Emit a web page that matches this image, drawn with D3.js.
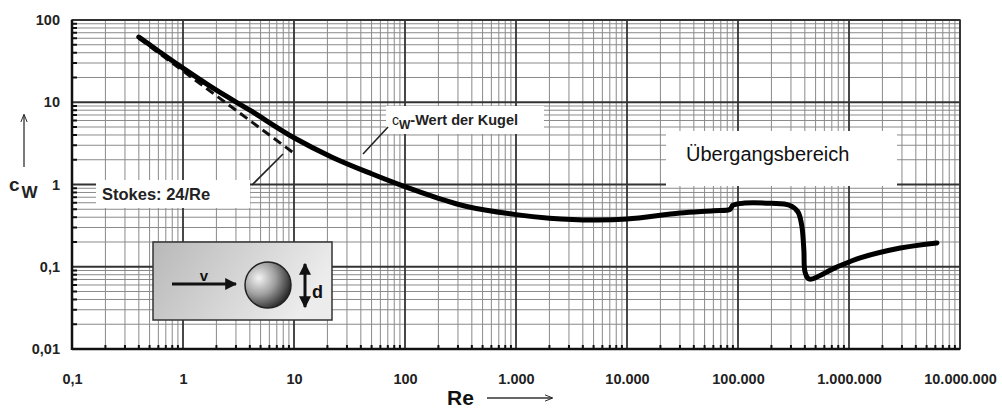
<!DOCTYPE html>
<html><head><meta charset="utf-8">
<script src="https://cdn.jsdelivr.net/npm/d3@7"></script>
<style>body{margin:0;background:#fff}svg{display:block}text{font-family:"Liberation Sans",Arial,sans-serif}</style>
</head><body><svg id="c" width="1002" height="408"></svg>
<script>
const xTicks = [0.1, 1, 10, 100, 1000, 1e4, 1e5, 1e6, 1e7];
const xTickLabels = ["0,1", "1", "10", "100", "1.000", "10.000", "100.000", "1.000.000", "10.000.000"];
const yTicks = [0.01, 0.1, 1, 10, 100];
const yTickLabels = ["0,01", "0,1", "1", "10", "100"];
const reValues = [0.4, 0.6, 1, 2, 4, 10, 22, 50, 100, 200, 360, 1000, 2000, 5000, 10000, 30000, 60000, 85000, 90000, 115000, 200000, 290000, 345000, 375000, 392000, 402000, 436000, 750000, 1260000, 2900000, 6200000];
const cwValues = [62, 42, 26, 14, 8.0, 3.7, 2.15, 1.35, 0.94, 0.68, 0.54, 0.43, 0.39, 0.37, 0.38, 0.45, 0.48, 0.50, 0.56, 0.595, 0.59, 0.56, 0.47, 0.32, 0.16, 0.086, 0.071, 0.097, 0.128, 0.169, 0.195];
const stokesRe = [0.4, 10];
const stokesCw = [60, 2.4];

const svg = d3.select("#c");
const L = 72, R = 960, T = 20, B = 349;
const x = d3.scaleLog().domain([0.1, 1e7]).range([L, R]);
const y = d3.scaleLog().domain([0.01, 100]).range([B, T]);

// minor grid
const minorX = [], minorY = [];
for (let e = -1; e < 7; e++) for (let m = 2; m <= 9; m++) minorX.push(m * Math.pow(10, e));
for (let e = -2; e < 2; e++) for (let m = 2; m <= 9; m++) minorY.push(m * Math.pow(10, e));
const g = svg.append("g");
g.selectAll(".mx").data(minorX).join("line").attr("x1", d => x(d)).attr("x2", d => x(d)).attr("y1", T).attr("y2", B).attr("stroke", "#8a8a8a").attr("stroke-width", 1);
g.selectAll(".my").data(minorY).join("line").attr("y1", d => y(d)).attr("y2", d => y(d)).attr("x1", L).attr("x2", R).attr("stroke", "#8a8a8a").attr("stroke-width", 1);
g.selectAll(".Mx").data(xTicks).join("line").attr("x1", d => x(d)).attr("x2", d => x(d)).attr("y1", T).attr("y2", B).attr("stroke", "#333").attr("stroke-width", 1.8);
g.selectAll(".My").data(yTicks).join("line").attr("y1", d => y(d)).attr("y2", d => y(d)).attr("x1", L).attr("x2", R).attr("stroke", "#333").attr("stroke-width", 1.8);
// minor tick marks on axes
g.selectAll(".tx").data(minorX).join("line").attr("x1", d => x(d)).attr("x2", d => x(d)).attr("y1", B - 4).attr("y2", B).attr("stroke", "#111").attr("stroke-width", 2);
g.selectAll(".ty").data(minorY).join("line").attr("y1", d => y(d)).attr("y2", d => y(d)).attr("x1", L).attr("x2", L + 5).attr("stroke", "#111").attr("stroke-width", 2);
// frame
svg.append("rect").attr("x", L).attr("y", T).attr("width", R - L).attr("height", B - T).attr("fill", "none").attr("stroke", "#333").attr("stroke-width", 1.5);
svg.append("line").attr("x1", L).attr("x2", L).attr("y1", T).attr("y2", B + 1).attr("stroke", "#111").attr("stroke-width", 2.5);
svg.append("line").attr("x1", L).attr("x2", R).attr("y1", B).attr("y2", B).attr("stroke", "#111").attr("stroke-width", 2.5);

// axes labels via d3 axes
const xAxis = d3.axisBottom(x).tickValues(xTicks).tickFormat((d, i) => xTickLabels[i]).tickSize(0).tickPadding(25);
const xa = svg.append("g").attr("transform", `translate(0,${B})`).call(xAxis);
xa.select(".domain").remove();
xa.selectAll("text").attr("font-size", 14.5).attr("font-weight", "bold").attr("fill", "#222").style("font-family", "Liberation Sans, Arial");
const yAxis = d3.axisLeft(y).tickValues(yTicks).tickFormat((d, i) => yTickLabels[i]).tickSize(0).tickPadding(12);
const ya = svg.append("g").attr("transform", `translate(${L},0)`).call(yAxis);
ya.select(".domain").remove();
ya.selectAll("text").attr("font-size", 14.5).attr("font-weight", "bold").attr("fill", "#222").style("font-family", "Liberation Sans, Arial");

// defs
const defs = svg.append("defs");
const lg = defs.append("linearGradient").attr("id", "boxg").attr("x1", "0").attr("y1", "0").attr("x2", "1").attr("y2", "0.3");
lg.append("stop").attr("offset", "0").attr("stop-color", "#b8b8b8");
lg.append("stop").attr("offset", "1").attr("stop-color", "#ececec");
const rg = defs.append("radialGradient").attr("id", "sph").attr("cx", "0.3").attr("cy", "0.35").attr("r", "0.8");
rg.append("stop").attr("offset", "0").attr("stop-color", "#f4f4f4");
rg.append("stop").attr("offset", "0.45").attr("stop-color", "#a0a0a0");
rg.append("stop").attr("offset", "1").attr("stop-color", "#111");
defs.append("marker").attr("id", "ah").attr("viewBox", "0 0 10 10").attr("refX", 9).attr("refY", 5).attr("markerWidth", 4).attr("markerHeight", 4).attr("orient", "auto-start-reverse")
  .append("path").attr("d", "M0,0L10,5L0,10z").attr("fill", "#111");
defs.append("marker").attr("id", "oa").attr("viewBox", "0 0 10 10").attr("refX", 9).attr("refY", 5).attr("markerWidth", 8).attr("markerHeight", 8).attr("markerUnits", "userSpaceOnUse").attr("orient", "auto")
  .append("path").attr("d", "M0,1L10,5L0,9").attr("fill", "none").attr("stroke", "#222").attr("stroke-width", 1.2);

// Stokes dashed
const line = d3.line().x(d => x(d[0])).y(d => y(d[1]));
svg.append("path").datum(stokesRe.map((r, i) => [r, stokesCw[i]])).attr("d", line).attr("fill", "none").attr("stroke", "#111").attr("stroke-width", 3).attr("stroke-dasharray", "9,5");
// main curve
const curveLine = d3.line().x(d => x(d[0])).y(d => y(d[1])).curve(d3.curveCatmullRom.alpha(0.5));
svg.append("path").datum(reValues.map((r, i) => [r, cwValues[i]])).attr("d", curveLine).attr("fill", "none").attr("stroke", "#000").attr("stroke-width", 5).attr("stroke-linejoin", "round").attr("stroke-linecap", "round");

// label boxes
svg.append("rect").attr("x", 96).attr("y", 180).attr("width", 154).attr("height", 28).attr("fill", "#fff");
svg.append("text").attr("x", 102).attr("y", 200).attr("font-size", 16.5).attr("font-weight", "bold").attr("fill", "#222").text("Stokes: 24/Re");
svg.append("line").attr("x1", 252).attr("y1", 185).attr("x2", 283).attr("y2", 154).attr("stroke", "#222").attr("stroke-width", 1.6);

svg.append("rect").attr("x", 386).attr("y", 106).attr("width", 158).attr("height", 28).attr("fill", "#fff");
const cwt = svg.append("text").attr("x", 392).attr("y", 125).attr("fill", "#222").attr("font-weight", "bold");
cwt.append("tspan").attr("font-size", 14).attr("font-weight", "normal").text("c");
cwt.append("tspan").attr("font-size", 12).attr("dy", 4).text("W");
cwt.append("tspan").attr("font-size", 14.5).attr("dy", -4).text("-Wert der Kugel");
svg.append("line").attr("x1", 363).attr("y1", 154).attr("x2", 388).attr("y2", 127).attr("stroke", "#222").attr("stroke-width", 1.6);

svg.append("rect").attr("x", 666).attr("y", 131).attr("width", 231).attr("height", 55).attr("fill", "#fff");
svg.append("text").attr("x", 686).attr("y", 161).attr("font-size", 20).attr("fill", "#111").style("font-family", "Liberation Sans, Arial").text("Übergangsbereich");

// inset
svg.append("rect").attr("x", 153).attr("y", 242).attr("width", 179).attr("height", 78).attr("fill", "url(#boxg)").attr("stroke", "#333").attr("stroke-width", 1.5);
svg.append("line").attr("x1", 172).attr("y1", 284).attr("x2", 236).attr("y2", 284).attr("stroke", "#111").attr("stroke-width", 3).attr("marker-end", "url(#ah)");
svg.append("text").attr("x", 204).attr("y", 281).attr("text-anchor", "middle").attr("font-size", 15).attr("font-weight", "bold").attr("fill", "#111").text("v");
svg.append("circle").attr("cx", 268).attr("cy", 285).attr("r", 23).attr("fill", "url(#sph)").attr("stroke", "#222").attr("stroke-width", 1.5);
svg.append("line").attr("x1", 305).attr("y1", 264).attr("x2", 305).attr("y2", 307).attr("stroke", "#111").attr("stroke-width", 3).attr("marker-start", "url(#ah)").attr("marker-end", "url(#ah)");
svg.append("text").attr("x", 312).attr("y", 298).attr("font-size", 18).attr("font-weight", "bold").attr("fill", "#111").text("d");

// y-axis title
svg.append("line").attr("x1", 24).attr("y1", 167).attr("x2", 24).attr("y2", 115).attr("stroke", "#333").attr("stroke-width", 1.3).attr("marker-end", "url(#oa)");
const yt = svg.append("text").attr("x", 9).attr("y", 191).attr("font-weight", "bold").attr("fill", "#222");
yt.append("tspan").attr("font-size", 19).text("c");
yt.append("tspan").attr("font-size", 17).attr("dx", 2).attr("dy", 7).text("W");

// x-axis title
svg.append("text").attr("x", 447).attr("y", 405).attr("font-size", 21).attr("font-weight", "bold").attr("fill", "#111").text("Re");
svg.append("line").attr("x1", 487).attr("y1", 398).attr("x2", 552).attr("y2", 398).attr("stroke", "#333").attr("stroke-width", 1.3).attr("marker-end", "url(#oa)");
</script></body></html>
